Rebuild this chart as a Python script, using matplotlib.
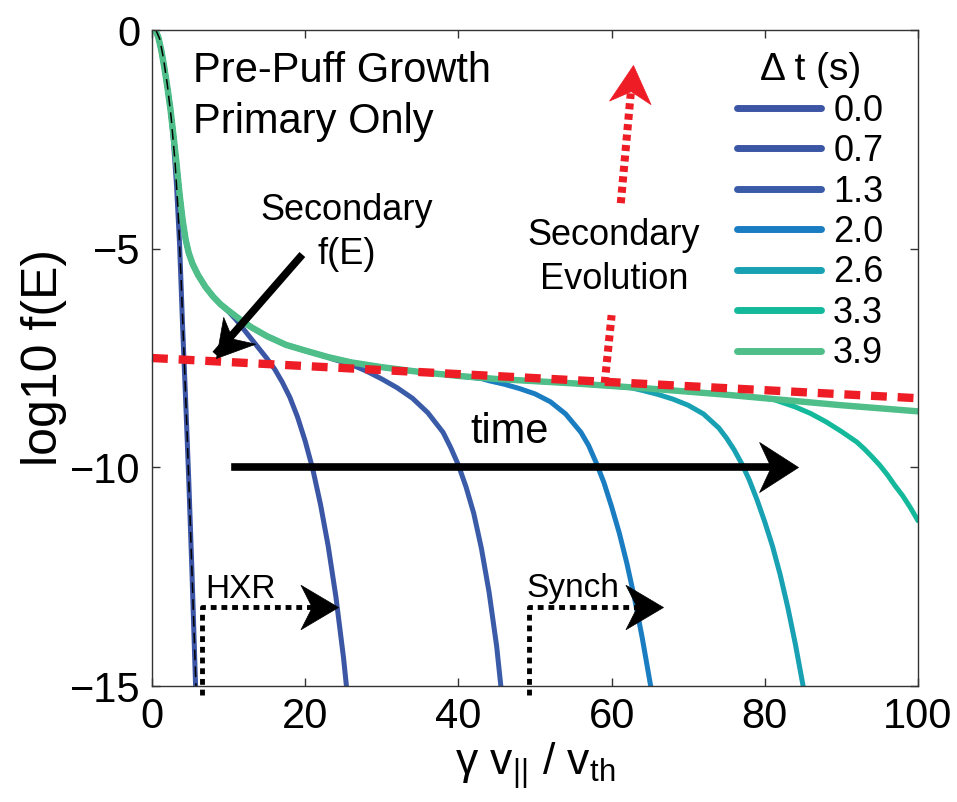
import numpy as np
import matplotlib
matplotlib.use("Agg")
import matplotlib.pyplot as plt
from matplotlib.path import Path
from matplotlib.markers import MarkerStyle
from matplotlib.transforms import Affine2D

plt.rcParams['font.family'] = ['Liberation Sans', 'DejaVu Sans']
plt.rcParams['mathtext.fontset'] = 'custom'
plt.rcParams['mathtext.rm'] = 'Liberation Sans'
plt.rcParams['mathtext.it'] = 'Liberation Sans'
plt.rcParams['axes.unicode_minus'] = True

# ---- data: log10 f(E) vs gamma v_par / v_th ----
# common envelope (the latest distribution follows it everywhere)
env_x = [0.4, 0.8, 1.2, 1.6, 2.0, 2.4, 2.8, 3.2, 3.6, 4.0, 4.4, 4.8, 5.3,
         6.0, 7.0, 8.0, 9.0, 10.0, 11.5, 13.0, 15.0, 17.5, 20.0, 23.0, 26.0,
         30.0, 35.0, 40.0, 45.0, 50.0, 55.0, 60.0, 65.0, 70.0, 75.0, 80.0,
         85.0, 90.0, 95.0, 100.0]
env_y = [0.0, -0.15, -0.45, -0.85, -1.3, -1.8, -2.4, -3.05, -3.75, -4.35,
         -4.8, -5.1, -5.35, -5.6, -5.88, -6.1, -6.28, -6.42, -6.62, -6.8,
         -7.0, -7.2, -7.33, -7.48, -7.6, -7.71, -7.82, -7.91, -7.98, -8.03,
         -8.08, -8.14, -8.2, -8.27, -8.34, -8.42, -8.5, -8.58, -8.65, -8.72]

times = ['0.0', '0.7', '1.3', '2.0', '2.6', '3.3', '3.9']
colors = ['#3c55a5', '#3b56a5', '#3a5ba8', '#1a7dc2', '#18a1b2', '#14b99b', '#4fbe88']

# falling tails of each time slice, after leaving the envelope
tail_x = {
    '0.0': [2.8, 3.2, 3.6, 4.0, 4.4, 4.8, 5.2, 5.6, 5.8],
    '0.7': [9.5, 10.0, 11.0, 12.0, 13.0, 14.0, 15.0, 16.0, 17.0, 18.0, 19.0,
            20.0, 21.0, 22.0, 23.0, 24.0, 25.0, 25.5],
    '1.3': [23.5, 26.0, 28.0, 30.0, 32.0, 34.0, 36.0, 38.0, 39.0, 40.0, 41.0,
            42.0, 43.0, 44.0, 45.0, 45.6],
    '2.0': [43.0, 44.0, 46.0, 48.0, 50.0, 52.0, 54.0, 56.0, 57.0, 58.0, 59.0,
            60.0, 61.0, 62.0, 63.0, 64.0, 65.0, 65.5],
    '2.6': [62.5, 64.0, 66.0, 68.0, 70.0, 72.0, 74.0, 75.0, 76.0, 77.0, 78.0,
            79.0, 80.0, 81.0, 82.0, 83.0, 84.0, 85.0, 85.5],
    '3.3': [81.0, 82.0, 84.0, 86.0, 88.0, 90.0, 92.0, 93.0, 94.0, 95.0, 96.0,
            97.0, 98.0, 99.0, 100.0],
    '3.9': [],
}
tail_y = {
    '0.0': [-2.55, -3.55, -4.9, -6.8, -8.5, -10.3, -12.3, -14.5, -15.6],
    '0.7': [-6.36, -6.44, -6.63, -6.85, -7.07, -7.29, -7.51, -7.75, -8.05,
            -8.4, -8.85, -9.4, -10.05, -10.85, -11.8, -12.95, -14.35, -15.2],
    '1.3': [-7.52, -7.65, -7.8, -7.98, -8.18, -8.42, -8.75, -9.2, -9.55,
            -9.95, -10.45, -11.05, -11.85, -12.85, -14.1, -15.1],
    '2.0': [-7.97, -8.02, -8.1, -8.2, -8.32, -8.5, -8.78, -9.2, -9.5, -9.9,
            -10.35, -10.9, -11.5, -12.2, -13.0, -13.9, -14.9, -15.4],
    '2.6': [-8.18, -8.24, -8.33, -8.44, -8.58, -8.78, -9.1, -9.33, -9.6,
            -9.92, -10.3, -10.75, -11.25, -11.8, -12.45, -13.2, -14.05, -15.0,
            -15.5],
    '3.3': [-8.44, -8.5, -8.62, -8.77, -8.96, -9.18, -9.42, -9.58, -9.76,
            -9.95, -10.17, -10.42, -10.65, -10.92, -11.22],
    '3.9': [],
}

# reference Maxwellian core
maxw_x = [0.5, 1.0, 1.5, 2.0, 2.5, 3.0, 3.4, 3.8, 4.2, 4.6, 5.0, 5.4, 5.8]
maxw_y = [0.0, -0.2, -0.65, -1.25, -2.0, -3.0, -4.1, -5.7, -7.5, -9.3,
          -11.3, -13.3, -15.3]

# secondary distribution
sec_x = [0.0, 100.0]
sec_y = [-7.5, -8.42]

# ---- figure ----
fig = plt.figure(figsize=(9.57, 8.02), dpi=100)
ax = fig.add_axes([152 / 957, 116 / 802, 766 / 957, 656 / 802])
ax.set_xlim(0, 100)
ax.set_ylim(-15, 0)

handles = []
for t, c in zip(times, colors):
    if tail_x[t]:
        x0 = tail_x[t][0]
        xs = [x for x in env_x if x < x0] + tail_x[t]
        ys = [y for x, y in zip(env_x, env_y) if x < x0] + tail_y[t]
        lw = 3.6
    else:
        xs, ys = env_x, env_y
        lw = 4.6
    h, = ax.plot(xs, ys, color=c, lw=lw, solid_capstyle='round',
                 solid_joinstyle='round')
    handles.append(h)

ax.plot(maxw_x, maxw_y, color='black', lw=1.1, ls=(0, (7, 4)))
ax.plot(sec_x, sec_y, color='#ee1c25', lw=6, ls=(0, (1.9, 1.3)), clip_on=False)


def head(x0, y0, x1, y1, color, length=27, width=30):
    # concave arrow head drawn as a rotated marker with its tip at (x1, y1)
    p0 = ax.transData.transform((x0, y0))
    p1 = ax.transData.transform((x1, y1))
    ang = np.degrees(np.arctan2(p1[1] - p0[1], p1[0] - p0[0]))
    verts = [(0, 0), (-length, width / 2), (-0.7 * length, 0),
             (-length, -width / 2), (0, 0)]
    codes = [Path.MOVETO, Path.LINETO, Path.LINETO, Path.LINETO, Path.CLOSEPOLY]
    m = MarkerStyle(Path(verts, codes), transform=Affine2D().rotate_deg(ang))
    ax.plot([x1], [y1], marker=m, ms=2 * max(length, width / 2), color=color,
            mfc=color, mec=color, mew=0.5, ls='none', clip_on=False)


# Secondary f(E) pointer
ax.plot([19.3, 8.6], [-5.2, -7.35], color='black', lw=5.5)
head(19.3, -5.2, 8.3, -7.5, 'black', 26, 30)
ax.text(25.4, -4.63, 'Secondary\nf(E)', ha='center', va='center',
        fontsize=26, linespacing=1.35)

# time arrow
ax.plot([10.8, 82.0], [-10, -10], color='black', lw=5.5)
head(10.8, -10, 84.3, -10, 'black', 28, 36)
ax.text(46.7, -9.19, 'time', ha='center', va='center', fontsize=30)

# secondary evolution (red dotted)
red = '#ee1c25'
ax.plot([59.1, 60.0], [-8.07, -6.52], color=red, lw=5.8, ls=(0, (0.75, 0.55)))
ax.plot([61.2, 62.5], [-3.96, -1.45], color=red, lw=5.8, ls=(0, (0.75, 0.55)))
head(61.2, -3.96, 62.75, -0.8, red, 27, 30)
ax.text(60.3, -5.2, 'Secondary\nEvolution', ha='center', va='center',
        fontsize=26, linespacing=1.35)

# HXR / Synch windows
ax.plot([6.5, 6.5, 22.0], [-15.2, -13.2, -13.2], color='black', lw=3.5,
        ls=(0, (1.2, 1.0)), clip_on=False)
head(6.5, -13.2, 24.3, -13.2, 'black', 27, 32)
ax.text(6.9, -12.99, 'HXR', ha='left', va='baseline', fontsize=24)

ax.plot([49.2, 49.2, 64.5], [-15.2, -13.2, -13.2], color='black', lw=3.5,
        ls=(0, (1.2, 1.0)), clip_on=False)
head(49.2, -13.2, 66.7, -13.2, 'black', 27, 32)
ax.text(48.9, -12.97, 'Synch', ha='left', va='baseline', fontsize=24)

ax.text(5.3, -1.52, 'Pre-Puff Growth\nPrimary Only', ha='left', va='center',
        fontsize=30, linespacing=1.37)

leg = ax.legend(handles, times, title='\u0394 t (s)', loc='upper right',
                bbox_to_anchor=(0.955, 0.966), frameon=False, fontsize=26,
                title_fontsize=28, handlelength=2.3, handletextpad=0.35,
                labelspacing=0.15, borderpad=0, borderaxespad=0)
for lh in leg.get_lines():
    lh.set_linewidth(5)

ax.set_xticks([0, 20, 40, 60, 80, 100])
ax.set_yticks([-15, -10, -5, 0])
ax.tick_params(direction='in', top=True, right=True, length=6, width=1,
               labelsize=30, pad=8, color='#333333')
for s in ax.spines.values():
    s.set_color('#333333')
    s.set_linewidth(1.0)

ax.set_ylabel('log10 f(E)', fontsize=36, labelpad=2)
ax.set_xlabel(r'$\gamma$ v$_{||}$ / v$_{\mathrm{th}}$', fontsize=32, labelpad=2)

fig.savefig('out.png', dpi=100)
